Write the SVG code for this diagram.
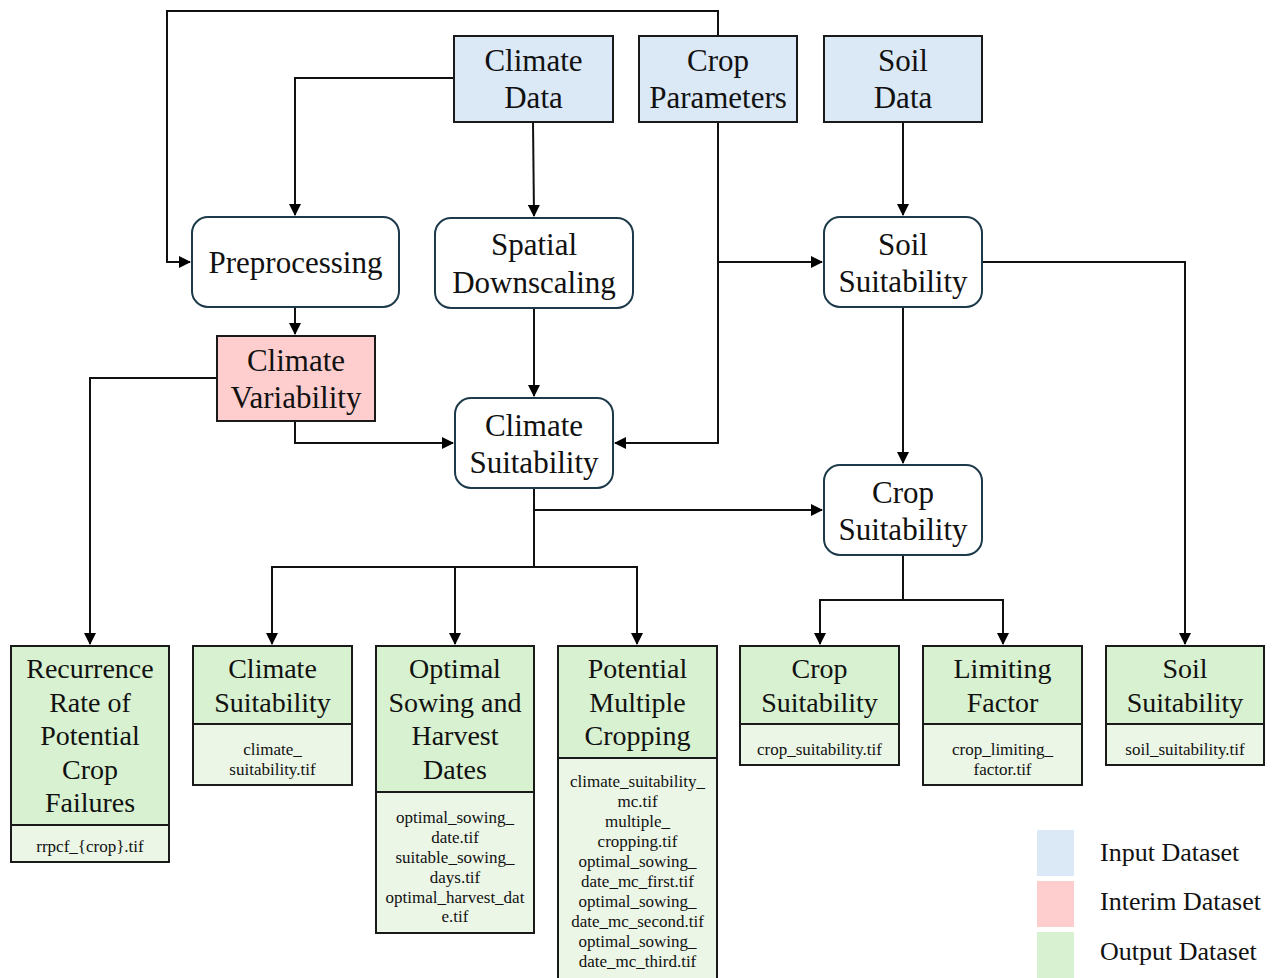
<svg xmlns="http://www.w3.org/2000/svg" width="1280" height="978" viewBox="0 0 1280 978">
<defs>
<marker id="arr" markerWidth="12" markerHeight="12" refX="11" refY="6" orient="auto" markerUnits="userSpaceOnUse">
<path d="M0,0 L12,6 L0,12 Z" fill="#000"/>
</marker>
<style>
.inp{fill:#dbe8f5;stroke:#1a1a1a;stroke-width:2}
.int{fill:#fecdcd;stroke:#1a1a1a;stroke-width:2}
.proc{fill:#fff;stroke:#1d3a4a;stroke-width:2}
.outh{fill:#d8f1d0;stroke:#1a1a1a;stroke-width:2}
.outf{fill:#ebf6e6;stroke:#1a1a1a;stroke-width:2}
text{font-family:'Liberation Serif','DejaVu Serif',serif;fill:#111}
.t{font-size:31px;text-anchor:middle}
.o{font-size:28px;text-anchor:middle}
.f{font-size:17px;text-anchor:middle}
.l{font-size:26px}
.c{fill:none;stroke:#111;stroke-width:2}
</style>
</defs>
<rect width="1280" height="978" fill="#fff"/>

<g id="connectors">
<path class="c" d="M718,36 V11 H167 V262 H190" marker-end="url(#arr)"/>
<path class="c" d="M454,78 H295 V215" marker-end="url(#arr)"/>
<path class="c" d="M533,122 L534,216" marker-end="url(#arr)"/>
<path class="c" d="M718,122 V443 H615" marker-end="url(#arr)"/>
<path class="c" d="M718,262 H822" marker-end="url(#arr)"/>
<path class="c" d="M903,122 V215" marker-end="url(#arr)"/>
<path class="c" d="M982,262 H1185 V644" marker-end="url(#arr)"/>
<path class="c" d="M903,307 V463" marker-end="url(#arr)"/>
<path class="c" d="M295,307 V334" marker-end="url(#arr)"/>
<path class="c" d="M217,378 H90 V644" marker-end="url(#arr)"/>
<path class="c" d="M295,421 V443 H453" marker-end="url(#arr)"/>
<path class="c" d="M534,308 V396" marker-end="url(#arr)"/>
<path class="c" d="M534,488 V567"/>
<path class="c" d="M534,510 H822" marker-end="url(#arr)"/>
<path class="c" d="M272,644 V567 H637 V644" marker-end="url(#arr)"/>
<path class="c" d="M272,567 V644" marker-end="url(#arr)"/>
<path class="c" d="M455,567 V644" marker-end="url(#arr)"/>
<path class="c" d="M903,555 V600"/>
<path class="c" d="M820,644 V600 H1003 V644" marker-end="url(#arr)"/>
<path class="c" d="M820,600 V644" marker-end="url(#arr)"/>
</g>

<g id="climate-data">
<rect class="inp" x="454" y="36" width="159" height="86"/>
<text class="t" x="533.5" y="71">Climate</text>
<text class="t" x="533.5" y="108">Data</text>
</g>
<g id="crop-parameters">
<rect class="inp" x="639" y="36" width="158" height="86"/>
<text class="t" x="718" y="71">Crop</text>
<text class="t" x="718" y="108">Parameters</text>
</g>
<g id="soil-data">
<rect class="inp" x="824" y="36" width="158" height="86"/>
<text class="t" x="903" y="71">Soil</text>
<text class="t" x="903" y="108">Data</text>
</g>

<g id="preprocessing">
<rect class="proc" x="192" y="217" width="207" height="90" rx="16"/>
<text class="t" x="295.5" y="273">Preprocessing</text>
</g>
<g id="spatial-downscaling">
<rect class="proc" x="435" y="218" width="198" height="90" rx="16"/>
<text class="t" x="534" y="255">Spatial</text>
<text class="t" x="534" y="293">Downscaling</text>
</g>
<g id="soil-suitability-process">
<rect class="proc" x="824" y="217" width="158" height="90" rx="16"/>
<text class="t" x="903" y="255">Soil</text>
<text class="t" x="903" y="292">Suitability</text>
</g>
<g id="climate-variability">
<rect class="int" x="217" y="336" width="158" height="85"/>
<text class="t" x="296" y="371">Climate</text>
<text class="t" x="296" y="408">Variability</text>
</g>
<g id="climate-suitability-process">
<rect class="proc" x="455" y="398" width="158" height="90" rx="16"/>
<text class="t" x="534" y="436">Climate</text>
<text class="t" x="534" y="473">Suitability</text>
</g>
<g id="crop-suitability-process">
<rect class="proc" x="824" y="465" width="158" height="90" rx="16"/>
<text class="t" x="903" y="503">Crop</text>
<text class="t" x="903" y="540">Suitability</text>
</g>

<g id="out-rrpcf">
<rect class="outh" x="11" y="646" width="158" height="179"/>
<rect class="outf" x="11" y="825" width="158" height="37"/>
<text class="o" x="90" y="678">Recurrence</text>
<text class="o" x="90" y="712">Rate of</text>
<text class="o" x="90" y="745">Potential</text>
<text class="o" x="90" y="779">Crop</text>
<text class="o" x="90" y="812">Failures</text>
<text class="f" x="90" y="852">rrpcf_{crop}.tif</text>
</g>
<g id="out-climate-suitability">
<rect class="outh" x="193" y="646" width="159" height="78"/>
<rect class="outf" x="193" y="724" width="159" height="61"/>
<text class="o" x="272.5" y="678">Climate</text>
<text class="o" x="272.5" y="712">Suitability</text>
<text class="f" x="272.5" y="755">climate_</text>
<text class="f" x="272.5" y="775">suitability.tif</text>
</g>
<g id="out-optimal-dates">
<rect class="outh" x="376" y="646" width="158" height="146"/>
<rect class="outf" x="376" y="792" width="158" height="141"/>
<text class="o" x="455" y="678">Optimal</text>
<text class="o" x="455" y="712">Sowing and</text>
<text class="o" x="455" y="745">Harvest</text>
<text class="o" x="455" y="779">Dates</text>
<text class="f" x="455" y="823">optimal_sowing_</text>
<text class="f" x="455" y="843">date.tif</text>
<text class="f" x="455" y="863">suitable_sowing_</text>
<text class="f" x="455" y="883">days.tif</text>
<text class="f" x="455" y="903">optimal_harvest_dat</text>
<text class="f" x="455" y="922">e.tif</text>
</g>
<g id="out-multiple-cropping">
<rect class="outh" x="558" y="646" width="159" height="112"/>
<rect class="outf" x="558" y="758" width="159" height="225"/>
<text class="o" x="637.5" y="678">Potential</text>
<text class="o" x="637.5" y="712">Multiple</text>
<text class="o" x="637.5" y="745">Cropping</text>
<text class="f" x="637.5" y="787">climate_suitability_</text>
<text class="f" x="637.5" y="807">mc.tif</text>
<text class="f" x="637.5" y="827">multiple_</text>
<text class="f" x="637.5" y="847">cropping.tif</text>
<text class="f" x="637.5" y="867">optimal_sowing_</text>
<text class="f" x="637.5" y="887">date_mc_first.tif</text>
<text class="f" x="637.5" y="907">optimal_sowing_</text>
<text class="f" x="637.5" y="927">date_mc_second.tif</text>
<text class="f" x="637.5" y="947">optimal_sowing_</text>
<text class="f" x="637.5" y="967">date_mc_third.tif</text>
</g>
<g id="out-crop-suitability">
<rect class="outh" x="740" y="646" width="159" height="78"/>
<rect class="outf" x="740" y="724" width="159" height="41"/>
<text class="o" x="819.5" y="678">Crop</text>
<text class="o" x="819.5" y="712">Suitability</text>
<text class="f" x="819.5" y="755">crop_suitability.tif</text>
</g>
<g id="out-limiting-factor">
<rect class="outh" x="923" y="646" width="159" height="78"/>
<rect class="outf" x="923" y="724" width="159" height="61"/>
<text class="o" x="1002.5" y="678">Limiting</text>
<text class="o" x="1002.5" y="712">Factor</text>
<text class="f" x="1002.5" y="755">crop_limiting_</text>
<text class="f" x="1002.5" y="775">factor.tif</text>
</g>
<g id="out-soil-suitability">
<rect class="outh" x="1106" y="646" width="158" height="78"/>
<rect class="outf" x="1106" y="724" width="158" height="41"/>
<text class="o" x="1185" y="678">Soil</text>
<text class="o" x="1185" y="712">Suitability</text>
<text class="f" x="1185" y="755">soil_suitability.tif</text>
</g>

<g id="legend">
<rect x="1037" y="830" width="37" height="46" fill="#dbe8f5"/>
<rect x="1037" y="881" width="37" height="46" fill="#fecdcd"/>
<rect x="1037" y="932" width="37" height="46" fill="#d8f1d0"/>
<text class="l" x="1100" y="861">Input Dataset</text>
<text class="l" x="1100" y="910">Interim Dataset</text>
<text class="l" x="1100" y="960">Output Dataset</text>
</g>
</svg>
